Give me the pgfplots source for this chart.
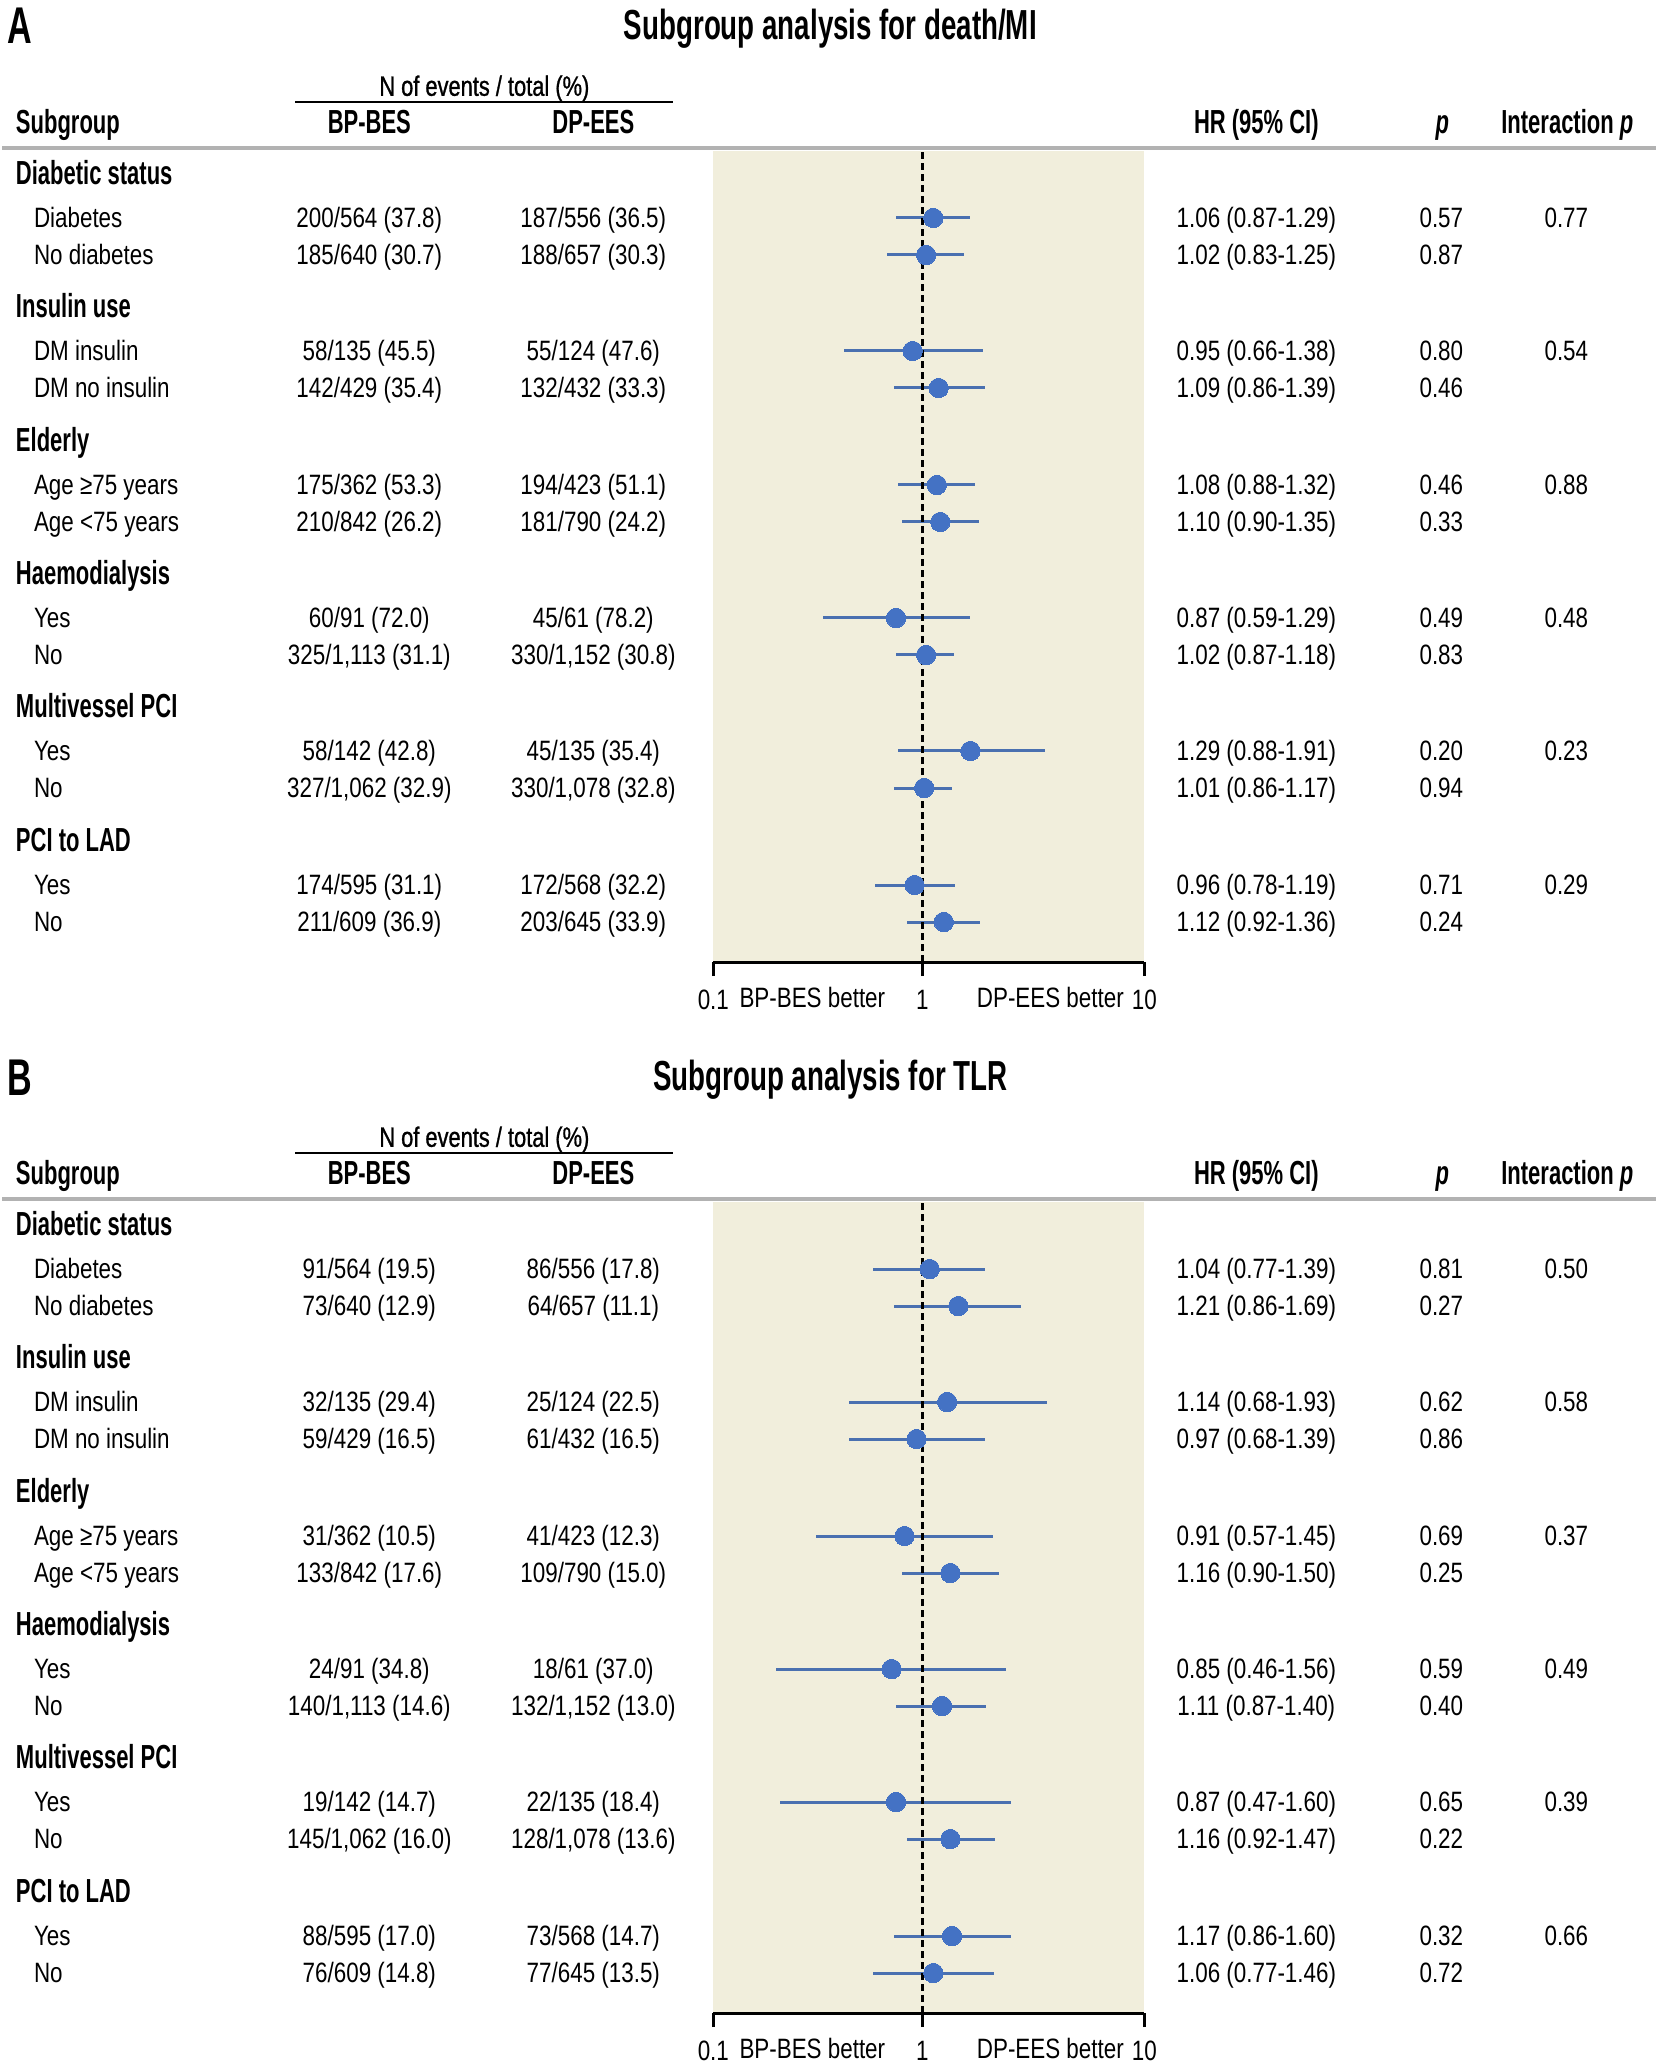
\documentclass[border=0pt]{standalone}
\usepackage{fontspec}
\setmainfont{Liberation Sans}[FakeStretch=0.8,
  BoldFeatures={FakeStretch=0.66}, BoldItalicFeatures={FakeStretch=0.66}]
\newfontfamily\medium{Liberation Sans}[FakeStretch=0.78, FakeBold=1]
\usepackage{pgfplots}
\usepackage{pgfplotstable}
\pgfplotsset{compat=1.18}

\definecolor{band}{HTML}{F1EEDC}
\definecolor{dot}{HTML}{4472C4}
\definecolor{ci}{HTML}{4A70B0}
\definecolor{rulegray}{gray}{0.7}

% y = height of the row above the axis line (px of the layout grid)
\pgfplotstableread{
y   hr   lo   hi
744 1.06 0.87 1.29
707 1.02 0.83 1.25
611 0.95 0.66 1.38
574 1.09 0.86 1.39
477 1.08 0.88 1.32
440 1.10 0.90 1.35
344 0.87 0.59 1.29
307 1.02 0.87 1.18
211 1.29 0.88 1.91
174 1.01 0.86 1.17
77  0.96 0.78 1.19
40  1.12 0.92 1.36
}\deathmi

\pgfplotstableread{
y   hr   lo   hi
744 1.04 0.77 1.39
707 1.21 0.86 1.69
611 1.14 0.68 1.93
574 0.97 0.68 1.39
477 0.91 0.57 1.45
440 1.16 0.90 1.50
344 0.85 0.46 1.56
307 1.11 0.87 1.40
211 0.87 0.47 1.60
174 1.16 0.92 1.47
77  1.17 0.86 1.60
40  1.06 0.77 1.46
}\tlr

\newcommand\forest[2]{%
\begin{axis}[
  at={(#2)}, anchor=south west,
  scale only axis, width=129.3pt, height=243.3pt,
  xmode=log, xmin=0.3309, xmax=3.238, ymin=0, ymax=811,
  axis x line*=bottom, axis y line=none,
  axis background/.style={fill=band},
  xtick={0.3309,1,3.238}, xticklabels={0.1,1,10}, minor xtick={},
  tick align=outside, major tick length=4.2pt,
  every tick/.style={black, line width=0.9pt},
  x axis line style={black, line width=0.9pt, -},
  xticklabel style={font=\fontsize{8.4}{9}\selectfont, inner sep=0pt, yshift=-4pt},
  clip=false]
  \addplot[ci, only marks, mark=none, forget plot,
    error bars/.cd, x dir=both, x explicit, error mark=none,
    error bar style={ci, line width=0.9pt}]
    table[x=hr, y=y,
      x error plus expr=\thisrow{hi}-\thisrow{hr},
      x error minus expr=\thisrow{hr}-\thisrow{lo}] {#1};
  \addplot[black, line width=0.9pt, dash pattern=on 2.1pt off 1.2pt, forget plot]
    coordinates {(1,0) (1,811)};
  \addplot[dot, only marks, mark=*, mark size=2.9pt,
    mark options={draw=dot, fill=dot, line width=0pt}] table[x=hr, y=y] {#1};
\end{axis}}

\newcommand\grp[2]{\node[anchor=mid west, font=\bfseries] at (13,{\oy+#1}) {#2};}
\newcommand\sub[7]{%
  \node[anchor=mid west] at (31,{\oy+#1}) {#2};
  \node at (367,{\oy+#1}) {#3};
  \node at (591,{\oy+#1}) {#4};
  \node at (1254,{\oy+#1}) {#5};
  \node at (1439,{\oy+#1}) {#6};
  \node at (1564,{\oy+#1}) {#7};}

\newcommand\header[2]{%
  \node[anchor=base west, font=\bfseries\fontsize{15.5}{18}\selectfont] at (5,{\oy+44}) {#1};
  \node[font=\bfseries\fontsize{12.6}{14}\selectfont] at (828,{\oy+31}) {#2};
  \node[font=\medium\fontsize{8.4}{10}\selectfont] at (482,{\oy+87}) {N of events / total (\%)};
  \draw[line width=0.6pt] (293,{\oy+101.6}) -- (671,{\oy+101.6});
  \node[anchor=mid west, font=\bfseries] at (13,{\oy+125}) {Subgroup};
  \node[font=\bfseries] at (367,{\oy+125}) {BP-BES};
  \node[font=\bfseries] at (591,{\oy+125}) {DP-EES};
  \node[font=\bfseries] at (1254,{\oy+125}) {HR (95\% CI)};
  \node[font=\bfseries\itshape] at (1440,{\oy+125}) {p};
  \node[font=\bfseries] at (1565,{\oy+125}) {Interaction \textit{p}};
  \draw[rulegray, line width=1.4pt] (0,{\oy+148}) -- (1654,{\oy+148});
  \node at (810,{\oy+999}) {BP-BES better};
  \node at (1048,{\oy+999}) {DP-EES better};}

\begin{document}
\begin{tikzpicture}[x=0.3pt, y=-0.3pt]
\path (0,0) rectangle (1654,2072);
\coordinate (plotA) at (711,962);
\coordinate (plotB) at (711,2013);

% ---- A: death/MI
\def\oy{0}
\forest{\deathmi}{plotA}
\begin{scope}[every node/.style={anchor=mid, inner sep=0pt, font=\fontsize{8.4}{10}\selectfont}]
\header{A}{Subgroup analysis for death/MI}
\grp{176}{Diabetic status}
\sub{219}{Diabetes}{200/564 (37.8)}{187/556 (36.5)}{1.06 (0.87-1.29)}{0.57}{0.77}
\sub{256}{No diabetes}{185/640 (30.7)}{188/657 (30.3)}{1.02 (0.83-1.25)}{0.87}{}
\grp{309}{Insulin use}
\sub{352}{DM insulin}{58/135 (45.5)}{55/124 (47.6)}{0.95 (0.66-1.38)}{0.80}{0.54}
\sub{389}{DM no insulin}{142/429 (35.4)}{132/432 (33.3)}{1.09 (0.86-1.39)}{0.46}{}
\grp{443}{Elderly}
\sub{486}{Age ≥75 years}{175/362 (53.3)}{194/423 (51.1)}{1.08 (0.88-1.32)}{0.46}{0.88}
\sub{523}{Age <75 years}{210/842 (26.2)}{181/790 (24.2)}{1.10 (0.90-1.35)}{0.33}{}
\grp{576}{Haemodialysis}
\sub{619}{Yes}{60/91 (72.0)}{45/61 (78.2)}{0.87 (0.59-1.29)}{0.49}{0.48}
\sub{656}{No}{325/1,113 (31.1)}{330/1,152 (30.8)}{1.02 (0.87-1.18)}{0.83}{}
\grp{709}{Multivessel PCI}
\sub{752}{Yes}{58/142 (42.8)}{45/135 (35.4)}{1.29 (0.88-1.91)}{0.20}{0.23}
\sub{789}{No}{327/1,062 (32.9)}{330/1,078 (32.8)}{1.01 (0.86-1.17)}{0.94}{}
\grp{843}{PCI to LAD}
\sub{886}{Yes}{174/595 (31.1)}{172/568 (32.2)}{0.96 (0.78-1.19)}{0.71}{0.29}
\sub{923}{No}{211/609 (36.9)}{203/645 (33.9)}{1.12 (0.92-1.36)}{0.24}{}
\end{scope}

% ---- B: TLR
\def\oy{1051}
\forest{\tlr}{plotB}
\begin{scope}[every node/.style={anchor=mid, inner sep=0pt, font=\fontsize{8.4}{10}\selectfont}]
\header{B}{Subgroup analysis for TLR}
\grp{176}{Diabetic status}
\sub{219}{Diabetes}{91/564 (19.5)}{86/556 (17.8)}{1.04 (0.77-1.39)}{0.81}{0.50}
\sub{256}{No diabetes}{73/640 (12.9)}{64/657 (11.1)}{1.21 (0.86-1.69)}{0.27}{}
\grp{309}{Insulin use}
\sub{352}{DM insulin}{32/135 (29.4)}{25/124 (22.5)}{1.14 (0.68-1.93)}{0.62}{0.58}
\sub{389}{DM no insulin}{59/429 (16.5)}{61/432 (16.5)}{0.97 (0.68-1.39)}{0.86}{}
\grp{443}{Elderly}
\sub{486}{Age ≥75 years}{31/362 (10.5)}{41/423 (12.3)}{0.91 (0.57-1.45)}{0.69}{0.37}
\sub{523}{Age <75 years}{133/842 (17.6)}{109/790 (15.0)}{1.16 (0.90-1.50)}{0.25}{}
\grp{576}{Haemodialysis}
\sub{619}{Yes}{24/91 (34.8)}{18/61 (37.0)}{0.85 (0.46-1.56)}{0.59}{0.49}
\sub{656}{No}{140/1,113 (14.6)}{132/1,152 (13.0)}{1.11 (0.87-1.40)}{0.40}{}
\grp{709}{Multivessel PCI}
\sub{752}{Yes}{19/142 (14.7)}{22/135 (18.4)}{0.87 (0.47-1.60)}{0.65}{0.39}
\sub{789}{No}{145/1,062 (16.0)}{128/1,078 (13.6)}{1.16 (0.92-1.47)}{0.22}{}
\grp{843}{PCI to LAD}
\sub{886}{Yes}{88/595 (17.0)}{73/568 (14.7)}{1.17 (0.86-1.60)}{0.32}{0.66}
\sub{923}{No}{76/609 (14.8)}{77/645 (13.5)}{1.06 (0.77-1.46)}{0.72}{}
\end{scope}
\end{tikzpicture}
\end{document}
